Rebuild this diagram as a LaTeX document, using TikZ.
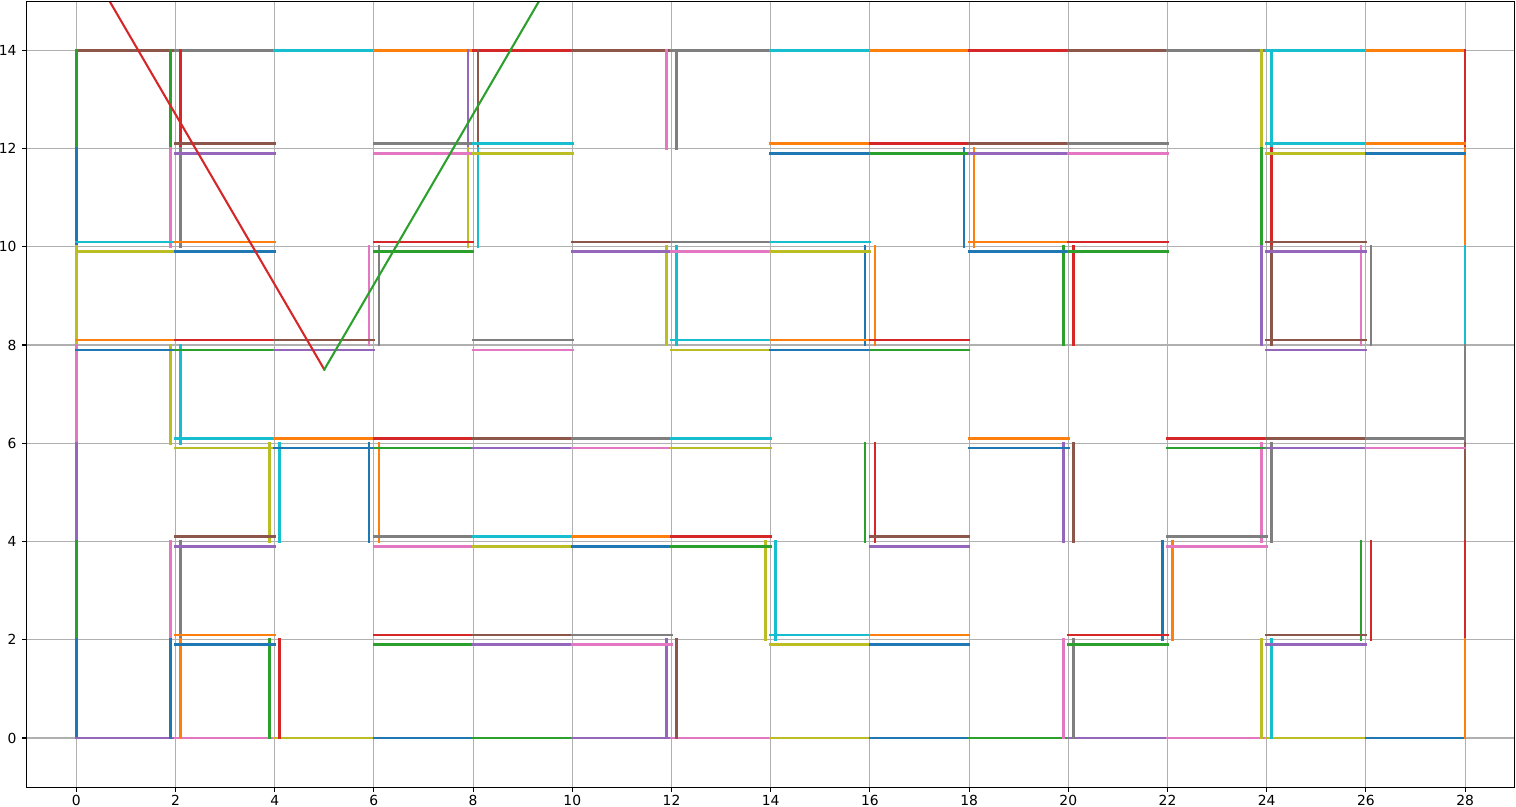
\documentclass[tikz,border=0pt]{standalone}
\usepackage{fontspec}
\setmainfont{DejaVu Sans}
\definecolor{tblue}{HTML}{1F77B4}
\definecolor{torange}{HTML}{FF7F0E}
\definecolor{tgreen}{HTML}{2CA02C}
\definecolor{tred}{HTML}{D62728}
\definecolor{tpurple}{HTML}{9467BD}
\definecolor{tbrown}{HTML}{8C564B}
\definecolor{tpink}{HTML}{E377C2}
\definecolor{tgray}{HTML}{7F7F7F}
\definecolor{tolive}{HTML}{BCBD22}
\definecolor{tcyan}{HTML}{17BECF}
\definecolor{gridgray}{HTML}{B0B0B0}
% horizontal boundary segment: y, x1, x2, colour
\newcommand\mzH[4]{\draw[maze,#4] (#2,#1) -- (#3,#1);}
% vertical boundary segment: x, y1, y2, colour
\newcommand\mzV[4]{\draw[maze,#4] (#1,#2) -- (#1,#3);}
% horizontal wall pair: y, x1, x2, upper colour, lower colour
\newcommand\hpair[5]{\draw[maze,#4] (#2,#1+0.1) -- (#3,#1+0.1); \draw[maze,#5] (#2,#1-0.1) -- (#3,#1-0.1);}
% vertical wall pair: x, y1, y2, left colour, right colour
\newcommand\vpair[5]{\draw[maze,#4] (#1-0.1,#2) -- (#1-0.1,#3); \draw[maze,#5] (#1+0.1,#2) -- (#1+0.1,#3);}
\begin{document}
\begin{tikzpicture}[x=24.8pt,y=24.5625pt,
  maze/.style={line width=1.3pt,line cap=rect},
  diag/.style={line width=1.04pt,line cap=rect},
  gridline/.style={draw=gridgray,line width=0.556pt},
  axisline/.style={draw=black,line width=0.556pt},
  ticklab/.style={inner sep=0pt,font=\fontsize{6.94}{8}\selectfont}]
\useasboundingbox (-1.5383,-1.4046) rectangle (29.0262,15.0229);
% grid
\foreach \i in {0,2,...,28} \draw[gridline] (\i,-1) -- (\i,15);
\foreach \j in {0,2,...,14} \draw[gridline] (-1,\j) -- (29,\j);
% outer boundary
\mzH{14}{0}{2}{tbrown}\mzH{14}{2}{4}{tgray}\mzH{14}{4}{6}{tcyan}\mzH{14}{6}{8}{torange}
\mzH{14}{8}{10}{tred}\mzH{14}{10}{12}{tbrown}\mzH{14}{12}{14}{tgray}\mzH{14}{14}{16}{tcyan}
\mzH{14}{16}{18}{torange}\mzH{14}{18}{20}{tred}\mzH{14}{20}{22}{tbrown}\mzH{14}{22}{24}{tgray}
\mzH{14}{24}{26}{tcyan}\mzH{14}{26}{28}{torange}
\mzV{0}{12}{14}{tgreen}\mzV{0}{10}{12}{tblue}\mzV{0}{8}{10}{tolive}\mzV{0}{6}{8}{tpink}
\mzV{0}{4}{6}{tpurple}\mzV{0}{2}{4}{tgreen}\mzV{0}{0}{2}{tblue}
\mzH{0}{0}{2}{tpurple}\mzH{0}{2}{4}{tpink}\mzH{0}{4}{6}{tolive}\mzH{0}{6}{8}{tblue}
\mzH{0}{8}{10}{tgreen}\mzH{0}{10}{12}{tpurple}\mzH{0}{12}{14}{tpink}\mzH{0}{14}{16}{tolive}
\mzH{0}{16}{18}{tblue}\mzH{0}{18}{20}{tgreen}\mzH{0}{20}{22}{tpurple}\mzH{0}{22}{24}{tpink}
\mzH{0}{24}{26}{tolive}\mzH{0}{26}{28}{tblue}
\mzV{28}{12}{14}{tred}\mzV{28}{10}{12}{torange}\mzV{28}{8}{10}{tcyan}\mzV{28}{6}{8}{tgray}
\mzV{28}{4}{6}{tbrown}\mzV{28}{2}{4}{tred}\mzV{28}{0}{2}{torange}
% interior vertical walls
\vpair{2}{12}{14}{tgreen}{tred}\vpair{8}{12}{14}{tpurple}{tbrown}
\vpair{12}{12}{14}{tpink}{tgray}\vpair{24}{12}{14}{tolive}{tcyan}
\vpair{2}{10}{12}{tpink}{tgray}\vpair{8}{10}{12}{tolive}{tcyan}
\vpair{18}{10}{12}{tblue}{torange}\vpair{24}{10}{12}{tgreen}{tred}
\vpair{6}{8}{10}{tpink}{tgray}\vpair{12}{8}{10}{tolive}{tcyan}
\vpair{16}{8}{10}{tblue}{torange}\vpair{20}{8}{10}{tgreen}{tred}
\vpair{24}{8}{10}{tpurple}{tbrown}\vpair{26}{8}{10}{tpink}{tgray}
\vpair{2}{6}{8}{tolive}{tcyan}
\vpair{4}{4}{6}{tolive}{tcyan}\vpair{6}{4}{6}{tblue}{torange}
\vpair{16}{4}{6}{tgreen}{tred}\vpair{20}{4}{6}{tpurple}{tbrown}
\vpair{24}{4}{6}{tpink}{tgray}
\vpair{2}{2}{4}{tpink}{tgray}\vpair{14}{2}{4}{tolive}{tcyan}
\vpair{22}{2}{4}{tblue}{torange}\vpair{26}{2}{4}{tgreen}{tred}
\vpair{2}{0}{2}{tblue}{torange}\vpair{4}{0}{2}{tgreen}{tred}
\vpair{12}{0}{2}{tpurple}{tbrown}\vpair{20}{0}{2}{tpink}{tgray}
\vpair{24}{0}{2}{tolive}{tcyan}
% interior horizontal walls
\hpair{12}{2}{4}{tbrown}{tpurple}\hpair{12}{6}{8}{tgray}{tpink}\hpair{12}{8}{10}{tcyan}{tolive}
\hpair{12}{14}{16}{torange}{tblue}\hpair{12}{16}{18}{tred}{tgreen}\hpair{12}{18}{20}{tbrown}{tpurple}
\hpair{12}{20}{22}{tgray}{tpink}\hpair{12}{24}{26}{tcyan}{tolive}\hpair{12}{26}{28}{torange}{tblue}
\hpair{10}{0}{2}{tcyan}{tolive}\hpair{10}{2}{4}{torange}{tblue}\hpair{10}{6}{8}{tred}{tgreen}
\hpair{10}{10}{12}{tbrown}{tpurple}\hpair{10}{12}{14}{tgray}{tpink}\hpair{10}{14}{16}{tcyan}{tolive}
\hpair{10}{18}{20}{torange}{tblue}\hpair{10}{20}{22}{tred}{tgreen}\hpair{10}{24}{26}{tbrown}{tpurple}
\hpair{8}{0}{2}{torange}{tblue}\hpair{8}{2}{4}{tred}{tgreen}\hpair{8}{4}{6}{tbrown}{tpurple}
\hpair{8}{8}{10}{tgray}{tpink}\hpair{8}{12}{14}{tcyan}{tolive}\hpair{8}{14}{16}{torange}{tblue}
\hpair{8}{16}{18}{tred}{tgreen}\hpair{8}{24}{26}{tbrown}{tpurple}
\hpair{6}{2}{4}{tcyan}{tolive}\hpair{6}{4}{6}{torange}{tblue}\hpair{6}{6}{8}{tred}{tgreen}
\hpair{6}{8}{10}{tbrown}{tpurple}\hpair{6}{10}{12}{tgray}{tpink}\hpair{6}{12}{14}{tcyan}{tolive}
\hpair{6}{18}{20}{torange}{tblue}\hpair{6}{22}{24}{tred}{tgreen}\hpair{6}{24}{26}{tbrown}{tpurple}
\hpair{6}{26}{28}{tgray}{tpink}
\hpair{4}{2}{4}{tbrown}{tpurple}\hpair{4}{6}{8}{tgray}{tpink}\hpair{4}{8}{10}{tcyan}{tolive}
\hpair{4}{10}{12}{torange}{tblue}\hpair{4}{12}{14}{tred}{tgreen}\hpair{4}{16}{18}{tbrown}{tpurple}
\hpair{4}{22}{24}{tgray}{tpink}
\hpair{2}{2}{4}{torange}{tblue}\hpair{2}{6}{8}{tred}{tgreen}\hpair{2}{8}{10}{tbrown}{tpurple}
\hpair{2}{10}{12}{tgray}{tpink}\hpair{2}{14}{16}{tcyan}{tolive}\hpair{2}{16}{18}{torange}{tblue}
\hpair{2}{20}{22}{tred}{tgreen}\hpair{2}{24}{26}{tbrown}{tpurple}
% diagonal lines
\begin{scope}
\clip (-1,-1) rectangle (29,15);
\coordinate (v) at (5,7.5);
\coordinate (rtop) at (0,16.1603);
\coordinate (gtop) at (10,16.1603);
\draw[diag,tred] (rtop) -- (v);
\draw[diag,tgreen] (v) -- (gtop);
\end{scope}
% axes frame, ticks and labels
\draw[axisline] (-1,-1) rectangle (29,15);
\foreach \i in {0,2,...,28} {
  \draw[axisline] (\i,-1) -- ++(0,-2.43pt);
  \node[ticklab,anchor=base] (xl\i) at (\i,-1.37) {\i};
}
\foreach \j in {0,2,...,14} {
  \draw[axisline] (-1,\j) -- ++(-2.43pt,0);
  \node[ticklab,anchor=east] (yl\j) at (-1.196,\j) {\j};
}
\end{tikzpicture}
\end{document}
